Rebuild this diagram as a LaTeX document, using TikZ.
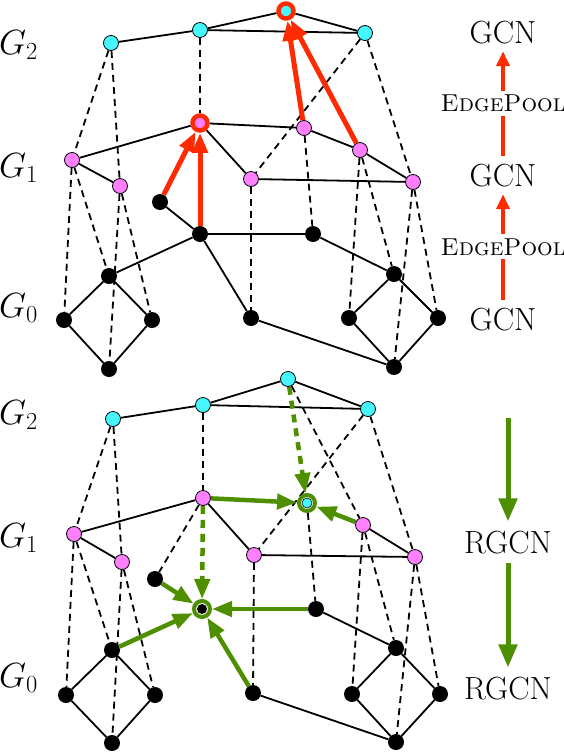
\RequirePackage{fix-cm}
\documentclass[tikz,border=0pt]{standalone}
\usetikzlibrary{arrows.meta}
\definecolor{cyanc}{HTML}{45F8FF}
\definecolor{pinkc}{HTML}{FF80FF}
\definecolor{redc}{HTML}{FF2A00}
\definecolor{greenc}{HTML}{4E8F00}
\pgfdeclarelayer{bg}
\pgfsetlayers{bg,main}
\begin{document}
\begin{tikzpicture}[x=1pt,y=-1pt,
  vc/.style={circle, draw=black, line width=0.8pt, fill=cyanc, minimum size=15pt, inner sep=0pt},
  vp/.style={circle, draw=black, line width=0.8pt, fill=pinkc, minimum size=15pt, inner sep=0pt},
  vb/.style={circle, fill=black, minimum size=16pt, inner sep=0pt},
  redring/.style={circle, draw=redc, line width=4.5pt, minimum size=15pt, inner sep=0pt},
  greenring/.style={circle, draw=greenc, line width=4pt, fill=white, minimum size=16pt, inner sep=0pt},
  sedge/.style={line width=1.8pt},
  dedge/.style={line width=1.8pt, dash pattern=on 7pt off 5pt},
  redarrow/.style={draw=redc, line width=5pt, -{Triangle[length=20pt,width=15pt]}},
  greenarrow/.style={draw=greenc, line width=4.5pt, -{Triangle[length=20pt,width=15pt]}},
  greendash/.style={draw=greenc, line width=4.5pt, dash pattern=on 8pt off 6pt, -{Triangle[length=20pt,width=15pt]}},
  sidered/.style={draw=redc, line width=4pt, -{Triangle[length=15pt,width=13pt]}},
  sidegreen/.style={draw=greenc, line width=5pt, -{Triangle[length=23pt,width=18pt]}},
  glab/.style={font=\fontsize{35}{40}\selectfont, anchor=base west, inner sep=0pt},
  gcn/.style={font=\fontsize{32}{36}\selectfont, anchor=base, inner sep=7.5pt},
  ep/.style={font=\fontsize{24.5}{28}\selectfont, anchor=base, fill=white, inner sep=4pt}
]
\useasboundingbox (0,0) rectangle (564,753);

% ---------------- labels ----------------
\node[glab] (lT2) at (-1,54) {$G_2$};
\node[glab] (lT1) at (-1,177) {$G_1$};
\node[glab] (lT0) at (-1,317) {$G_0$};
\node[glab] (lB2) at (-1,424) {$G_2$};
\node[glab] (lB1) at (-1,547) {$G_1$};
\node[glab] (lB0) at (-1,687) {$G_0$};

% ---------------- top graph nodes ----------------
\node[vc] (Tc1) at (111,43) {};
\node[vc] (Tc2) at (200,30) {};
\node[redring, fill=cyanc] (Tc3) at (286,11) {};
\node[vc] (Tc4) at (365,33) {};
\node[vp] (Tp1) at (72,160) {};
\node[vp] (Tp2) at (120,186) {};
\node[redring, fill=pinkc] (Tp3) at (200,123) {};
\node[vp] (Tp4) at (304,128) {};
\node[vp] (Tp5) at (360,150) {};
\node[vp] (Tp6) at (251,179) {};
\node[vp] (Tp7) at (413,182) {};
\node[vb] (Tb1) at (160,202) {};
\node[vb] (Tb2) at (200,234) {};
\node[vb] (Tb3) at (109,276) {};
\node[vb] (Tb4) at (64,320) {};
\node[vb] (Tb5) at (152,320) {};
\node[vb] (Tb6) at (109,369) {};
\node[vb] (Tb7) at (313,234) {};
\node[vb] (Tb8) at (394,274) {};
\node[vb] (Tb9) at (251,318) {};
\node[vb] (Tb10) at (349,318) {};
\node[vb] (Tb11) at (438,318) {};
\node[vb] (Tb12) at (394,367) {};

% ---------------- bottom graph nodes ----------------
\node[vc] (Bc1) at (113,419) {};
\node[vc] (Bc2) at (203,405) {};
\node[vc] (Bc3) at (288,379) {};
\node[vc] (Bc4) at (368,409) {};
\node[vp] (Bp1) at (74,534) {};
\node[vp] (Bp2) at (122,562) {};
\node[vp] (Bp3) at (203,498) {};
\node[greenring] (Bp4) at (307,503) {};
\node[circle, draw=black, line width=0.6pt, fill=cyanc, minimum size=10pt, inner sep=0pt] (Bp4in) at (Bp4) {};
\node[vp] (Bp5) at (363,525) {};
\node[vp] (Bp6) at (254,555) {};
\node[vp] (Bp7) at (415,557) {};
\node[vb] (Bb1) at (155,579) {};
\node[greenring] (Bb2) at (202,609) {};
\node[vb, minimum size=10pt] (Bb2in) at (Bb2) {};
\node[vb] (Bb3) at (112,650) {};
\node[vb] (Bb4) at (66,695) {};
\node[vb] (Bb5) at (155,695) {};
\node[vb] (Bb6) at (112,743) {};
\node[vb] (Bb7) at (316,609) {};
\node[vb] (Bb8) at (396,648) {};
\node[vb] (Bb9) at (253,693) {};
\node[vb] (Bb10) at (352,694) {};
\node[vb] (Bb11) at (440,694) {};
\node[vb] (Bb12) at (396,742) {};

% ---------------- right side labels ----------------
\node[gcn] (gcn1) at (503,43) {GCN};
\node[gcn] (gcn2) at (503,186) {GCN};
\node[gcn] (gcn3) at (503,330) {GCN};
\node[gcn, inner sep=9pt] (rg1) at (508,553) {RGCN};
\node[gcn, inner sep=9pt] (rg2) at (508,699) {RGCN};
\coordinate (gstart) at (508,418);

\begin{pgfonlayer}{bg}
  % top
  \foreach \a/\b in {c1/p1,c1/p2,c2/p3,c4/p6,c4/p7,p1/b4,p1/b3,p2/b5,p2/b6,p4/b7,p5/b10,p5/b8,p6/b9,p7/b12,p7/b11}
    {\draw[dedge] (T\a) -- (T\b);}
  \foreach \a/\b in {c1/c2,c2/c3,c3/c4,c2/c4,p1/p3,p1/p2,p3/p4,p3/p6,p4/p5,p5/p7,p6/p7,b1/b2,b2/b3,b2/b7,b2/b9,b3/b4,b3/b5,b4/b6,b5/b6,b7/b8,b8/b10,b8/b11,b10/b12,b11/b12,b9/b12}
    {\draw[sedge] (T\a) -- (T\b);}
  \foreach \a/\b in {b1/p3,b2/p3,p4/c3,p5/c3}
    {\draw[redarrow] (T\a) -- (T\b);}
  % bottom
  \foreach \a/\b in {c1/p1,c1/p2,c2/p3,c3/p5,c4/p6,c4/p7,p3/b1,p1/b4,p1/b3,p2/b5,p2/b6,p4/b7,p5/b10,p5/b8,p6/b9,p7/b12,p7/b11}
    {\draw[dedge] (B\a) -- (B\b);}
  \foreach \a/\b in {c1/c2,c2/c3,c3/c4,c2/c4,p1/p3,p1/p2,p3/p6,p6/p7,p5/p7,b3/b4,b3/b5,b4/b6,b5/b6,b7/b8,b8/b10,b8/b11,b10/b12,b11/b12,b9/b12}
    {\draw[sedge] (B\a) -- (B\b);}
  \foreach \a/\b in {p3/p4,p5/p4,b1/b2,b3/b2,b7/b2,b9/b2}
    {\draw[greenarrow] (B\a) -- (B\b);}
  \foreach \a/\b in {c3/p4,p3/b2}
    {\draw[greendash] (B\a) -- (B\b);}
  % side arrows
  \draw[sidered] (gcn2) -- (gcn1);
  \draw[sidered] (gcn3) -- (gcn2);
  \draw[sidegreen] (gstart) -- (rg1);
  \draw[sidegreen] (rg1) -- (rg2);
\end{pgfonlayer}

\node[ep] (ep1) at (503,111.5) {\textsc{EdgePool}};
\node[ep] (ep2) at (503,255) {\textsc{EdgePool}};
\end{tikzpicture}
\end{document}
